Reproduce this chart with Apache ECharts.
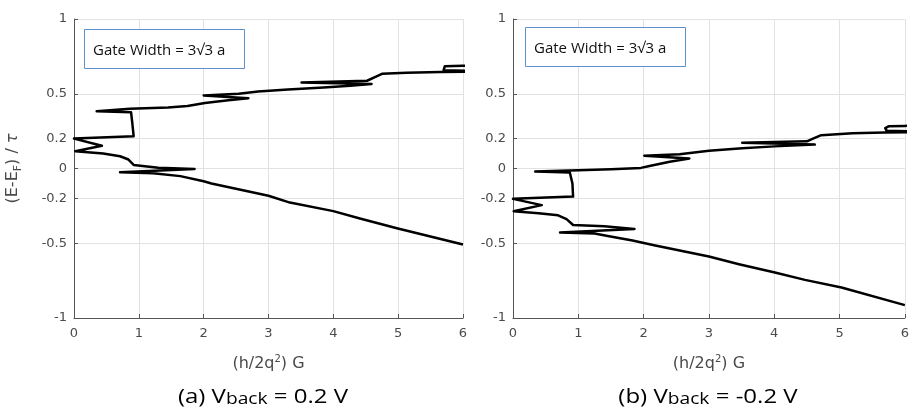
<!DOCTYPE html>
<html>
<head>
<meta charset="utf-8">
<script src="https://cdn.jsdelivr.net/npm/echarts@6/dist/echarts.min.js"></script>
<style>
html,body{margin:0;padding:0;background:#fff;}
#chart{width:912px;height:412px;}
</style>
</head>
<body>
<div id="chart"></div>
<script>
// ---- data ----
const xTicks = [0, 1, 2, 3, 4, 5, 6];
const yTicks = [-1, -0.5, -0.2, 0, 0.2, 0.5, 1];

// Panel (a): conductance G (x) vs energy (E-EF)/tau (y), ordered along the curve
const gA = [6.0, 4.98, 4.41, 4.00, 3.33, 3.00, 2.12, 2.00, 1.64, 1.22, 0.71, 1.86, 1.30, 1.28, 0.92, 0.89, 0.84, 0.71, 0.45, 0.02, 0.43, 0.00, 0.92, 0.90, 0.88, 0.35, 0.86, 1.45, 1.75, 2.02, 2.38, 2.69, 2.00, 2.54, 2.84, 3.30, 3.85, 4.26, 4.59, 3.51, 4.52, 4.65, 4.75, 5.13, 5.65, 6.5, 6.5, 5.70, 5.68, 5.72, 6.0, 6.5];
const eA = [-0.508, -0.400, -0.335, -0.285, -0.228, -0.182, -0.100, -0.085, -0.051, -0.031, -0.025, -0.003, 0.005, 0.018, 0.024, 0.033, 0.060, 0.082, 0.100, 0.116, 0.152, 0.200, 0.216, 0.300, 0.377, 0.383, 0.399, 0.408, 0.418, 0.438, 0.457, 0.470, 0.488, 0.500, 0.515, 0.528, 0.542, 0.553, 0.565, 0.576, 0.587, 0.613, 0.633, 0.640, 0.645, 0.650, 0.654, 0.657, 0.670, 0.684, 0.688, 0.690];

// Panel (b)
const gB = [6.0, 5.03, 4.47, 4.01, 3.46, 3.00, 2.16, 1.83, 1.43, 1.25, 0.72, 1.86, 1.40, 0.92, 0.89, 0.82, 0.69, 0.39, 0.01, 0.44, 0.00, 0.92, 0.91, 0.87, 0.34, 1.00, 1.50, 1.96, 2.09, 2.40, 2.70, 2.01, 2.55, 3.00, 3.51, 4.00, 4.62, 3.51, 4.50, 4.62, 4.72, 5.20, 5.69, 6.5, 6.5, 5.72, 5.70, 5.75, 6.0, 6.5];
const eB = [-0.914, -0.796, -0.745, -0.696, -0.640, -0.589, -0.513, -0.482, -0.450, -0.435, -0.428, -0.404, -0.387, -0.378, -0.366, -0.339, -0.313, -0.299, -0.286, -0.245, -0.203, -0.188, -0.100, -0.027, -0.020, -0.011, -0.005, 0.004, 0.017, 0.045, 0.067, 0.085, 0.095, 0.118, 0.136, 0.148, 0.160, 0.172, 0.182, 0.205, 0.223, 0.235, 0.241, 0.245, 0.250, 0.253, 0.270, 0.282, 0.285, 0.287];

const gateText = 'Gate Width = 3\u221A3 a';
const captionA = ['(a) V', 'back', ' = 0.2 V'];
const captionB = ['(b) V', 'back', ' = -0.2 V'];
const xName = ['(h/2q', '2', ') G'];
const yName = ['(E-E', 'F', ') / ', '\u03C4'];

// ---- build ----
function zip(xs, ys) { return xs.map((x, i) => [x, ys[i]]); }

const AX = '#4a4a4a';
const GRIDC = '#e2e2e2';
const FONT = 'DejaVu Sans';

function xAxisCfg(idx) {
  return {
    type: 'value', gridIndex: idx, min: xTicks[0], max: xTicks[xTicks.length - 1], interval: 1,
    axisLine: { show: true, onZero: false, lineStyle: { color: '#555', width: 1 } },
    axisTick: { show: true, inside: true, length: 4, lineStyle: { color: '#555' } },
    axisLabel: { color: AX, fontFamily: FONT, fontSize: 13, margin: 9 },
    splitLine: { show: true, lineStyle: { color: GRIDC, width: 1 } },
    name: '{n|' + xName[0] + '}{p|' + xName[1] + '}{n|' + xName[2] + '}',
    nameLocation: 'middle', nameGap: 36,
    nameTextStyle: {
      color: AX, fontFamily: FONT, fontSize: 16,
      rich: {
        n: { color: AX, fontFamily: FONT, fontSize: 16, lineHeight: 20 },
        p: { color: AX, fontFamily: FONT, fontSize: 10, lineHeight: 10, verticalAlign: 'top' }
      }
    }
  };
}
function yAxisCfg(idx, withName) {
  const c = {
    type: 'value', gridIndex: idx, min: -1, max: 1,
    axisLine: { show: true, onZero: false, lineStyle: { color: '#555', width: 1 } },
    axisTick: { show: true, inside: true, length: 4, customValues: yTicks, lineStyle: { color: '#555' } },
    axisLabel: { color: AX, fontFamily: FONT, fontSize: 13, margin: 7, customValues: yTicks },
    splitLine: { show: true, lineStyle: { color: GRIDC, width: 1 } }
  };
  if (withName) {
    c.name = '{n|' + yName[0] + '}{s|' + yName[1] + '}{n|' + yName[2] + '}{t|' + yName[3] + '}';
    c.nameLocation = 'middle';
    c.nameGap = 50;
    c.nameRotate = 90;
    c.nameTextStyle = {
      color: AX, fontFamily: FONT, fontSize: 16,
      rich: {
        n: { color: AX, fontFamily: FONT, fontSize: 16, lineHeight: 22 },
        s: { color: AX, fontFamily: FONT, fontSize: 11, lineHeight: 11, verticalAlign: 'bottom' },
        t: { color: AX, fontFamily: FONT, fontSize: 16, fontStyle: 'italic', lineHeight: 22 }
      }
    };
  }
  return c;
}
function lineSeries(idx, g, e) {
  return {
    type: 'line', xAxisIndex: idx, yAxisIndex: idx, data: zip(g, e),
    showSymbol: false, symbol: 'none', clip: true, silent: true,
    lineStyle: { color: '#000', width: 2.5, join: 'round' }
  };
}
function caption(cx, cy, parts) {
  return {
    type: 'text', x: cx, y: cy, scaleX: 1.2, z: 100,
    style: {
      text: '{m|' + parts[0] + '}{s|' + parts[1] + '}{m|' + parts[2] + '}',
      align: 'center', verticalAlign: 'middle',
      rich: {
        m: { fontFamily: 'Open Sans', fontSize: 20, lineHeight: 26, fill: '#000' },
        s: { fontFamily: 'Open Sans', fontSize: 16, lineHeight: 16, verticalAlign: 'bottom', padding: [0, 0, 3, 0], fill: '#000' }
      }
    }
  };
}
function gateBox(x, y, w, h) {
  return [
    { type: 'rect', z: 100, shape: { x: x + 0.5, y: y + 0.5, width: w, height: h },
      style: { fill: '#fff', stroke: '#5b8fd0', lineWidth: 1 } },
    { type: 'text', z: 101, x: x + 9, y: y + h / 2 + 2,
      style: { text: gateText, fontFamily: 'Open Sans', fontSize: 15, fill: '#111', verticalAlign: 'middle', align: 'left' } }
  ];
}

const chart = echarts.init(document.getElementById('chart'), null, { renderer: 'canvas' });
chart.setOption({
  animation: false,
  backgroundColor: '#fff',
  grid: [
    { left: 74, top: 19, width: 389, height: 299 },
    { left: 513, top: 19, width: 394, height: 299 }
  ],
  xAxis: [xAxisCfg(0), xAxisCfg(1)],
  yAxis: [yAxisCfg(0, true), yAxisCfg(1, false)],
  series: [lineSeries(0, gA, eA), lineSeries(1, gB, eB)],
  graphic: [
    ...gateBox(84, 29, 160, 39),
    ...gateBox(525, 27, 160, 39),
    caption(263, 397, captionA),
    caption(708, 397, captionB)
  ]
});
</script>
</body>
</html>
